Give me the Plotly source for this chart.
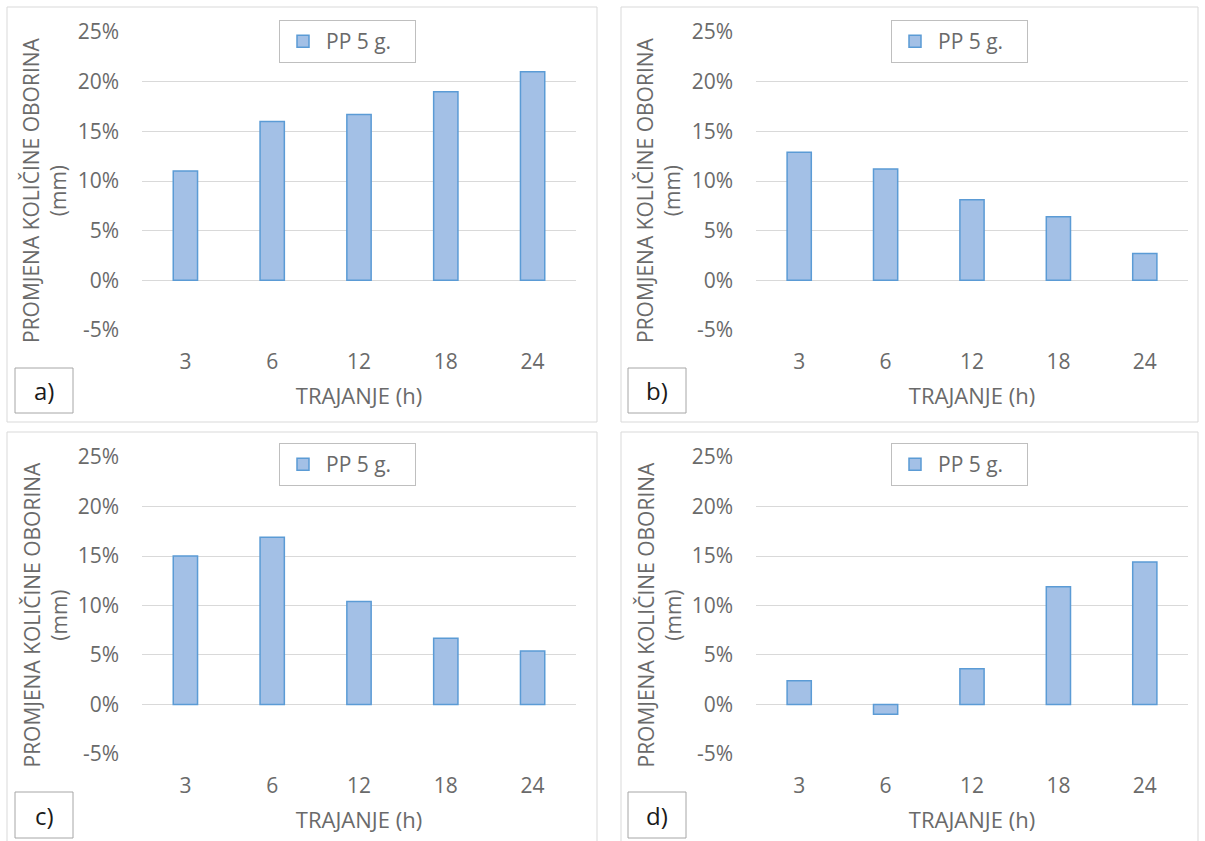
import plotly.graph_objects as go

# Rainfall change per duration, four stations / scenarios
durations = ["3", "6", "12", "18", "24"]
panel_a = [11.0, 16.0, 16.7, 19.0, 21.0]
panel_b = [12.9, 11.2, 8.1, 6.4, 2.7]
panel_c = [15.0, 16.9, 10.4, 6.7, 5.4]
panel_d = [2.4, -1.0, 3.6, 11.9, 14.4]
panel_labels = ["a)", "b)", "c)", "d)"]
y_ticks = [-5, 0, 5, 10, 15, 20, 25]
y_tick_text = ["-5%", "0%", "5%", "10%", "15%", "20%", "25%"]
series_name = "PP 5 g."
x_title = "TRAJANJE (h)"
y_title = "PROMJENA KOLIČINE OBORINA<br>(mm)"

W, H = 1205, 841
FONT = "Open Sans"
TEXT = "#6a6a6a"
GRID = "#d9d9d9"
BAR_FILL = "#a3c0e6"
BAR_LINE = "#5b9bd5"


def px(x):
    return x / W


def py(y):
    return 1 - y / H


# pixel layout of each panel
panels = [
    dict(vals=panel_a, frame=(7, 7, 597, 422), px0=142, px1=576, ptop=32, pbot=330,
         leg=(279, 20), box=(15, 368, 73, 413)),
    dict(vals=panel_b, frame=(621, 7, 1198, 422), px0=756, px1=1188, ptop=32, pbot=330,
         leg=(891, 20), box=(628, 368, 686, 413)),
    dict(vals=panel_c, frame=(7, 432, 597, 846), px0=142, px1=576, ptop=457, pbot=754,
         leg=(279, 443), box=(15, 792, 73, 838)),
    dict(vals=panel_d, frame=(621, 432, 1198, 846), px0=756, px1=1188, ptop=457, pbot=754,
         leg=(891, 443), box=(628, 792, 686, 838)),
]

fig = go.Figure()
shapes = []
annotations = []
layout = dict(
    width=W, height=H,
    margin=dict(l=0, r=0, t=0, b=0, autoexpand=False),
    paper_bgcolor="white", plot_bgcolor="white",
    font=dict(family=FONT, size=21, color=TEXT),
)

for i, p in enumerate(panels):
    n = "" if i == 0 else str(i + 1)
    leg_name = "legend" + n
    fig.add_trace(go.Bar(
        x=durations, y=p["vals"], name=series_name,
        width=0.28,
        marker=dict(color=BAR_FILL, line=dict(color=BAR_LINE, width=1.5)),
        xaxis="x" + n, yaxis="y" + n,
        legend=leg_name, showlegend=True,
    ))
    layout["xaxis" + n] = dict(
        domain=[px(p["px0"]), px(p["px1"])],
        anchor="y" + n, type="category", automargin=False,
        showgrid=False, showline=False, zeroline=False, ticks="",
        ticklabelstandoff=17,
        tickfont=dict(size=21, color=TEXT, family=FONT),
        title=dict(text=x_title, standoff=14, font=dict(size=22, color=TEXT, family=FONT)),
    )
    layout["yaxis" + n] = dict(
        domain=[py(p["pbot"]), py(p["ptop"])],
        anchor="x" + n, range=[-5.01, 25.01], automargin=False,
        tickmode="array", tickvals=y_ticks, ticktext=y_tick_text,
        showgrid=True, gridcolor=GRID, gridwidth=1,
        zeroline=False, showline=False, ticks="",
        ticklabelstandoff=22,
        tickfont=dict(size=21, color=TEXT, family=FONT),
    )
    lx, ly = p["leg"]
    layout[leg_name] = dict(
        x=px(lx), y=py(ly), xanchor="left", yanchor="top",
        orientation="h",
        bgcolor="white", bordercolor="#bfbfbf", borderwidth=1,
        itemwidth=36, entrywidthmode="pixels", entrywidth=84,
        font=dict(size=21, color=TEXT, family=FONT),
    )
    fx0, fy0, fx1, fy1 = p["frame"]
    shapes.append(dict(type="rect", xref="paper", yref="paper",
                       x0=px(fx0), x1=px(fx1), y0=py(fy1), y1=py(fy0),
                       line=dict(color=GRID, width=1), fillcolor="rgba(0,0,0,0)"))
    bx0, by0, bx1, by1 = p["box"]
    shapes.append(dict(type="rect", xref="paper", yref="paper",
                       x0=px(bx0), x1=px(bx1), y0=py(by1), y1=py(by0),
                       line=dict(color="#a6a6a6", width=1), fillcolor="white"))
    annotations.append(dict(
        text=panel_labels[i], xref="paper", yref="paper",
        x=px((bx0 + bx1) / 2), y=py((by0 + by1) / 2),
        xanchor="center", yanchor="middle", showarrow=False,
        font=dict(size=24, color="#1a1a1a", family=FONT),
    ))
    annotations.append(dict(
        text=y_title, xref="paper", yref="paper",
        x=px(p["px0"] - 97), y=py((p["ptop"] + p["pbot"]) / 2 + 9),
        xanchor="center", yanchor="middle", showarrow=False, textangle=-90,
        font=dict(size=21, color=TEXT, family=FONT),
    ))

layout["shapes"] = shapes
layout["annotations"] = annotations
fig.update_layout(**layout)
fig.write_html("out.html")
